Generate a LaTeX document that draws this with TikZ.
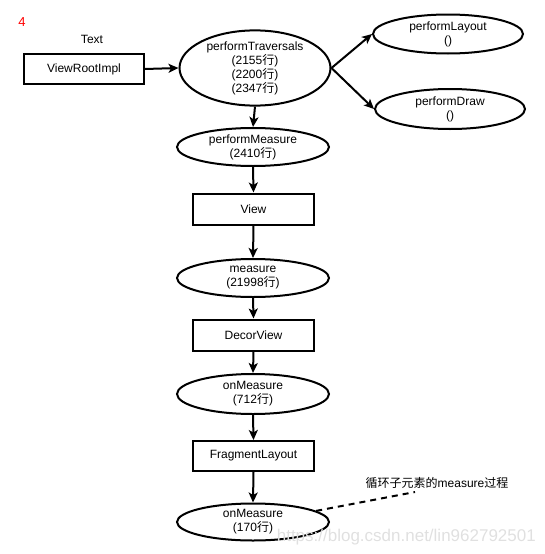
\documentclass[tikz,border=0pt]{standalone}
\usepackage{fontspec}
\setmainfont{Liberation Sans}
\newfontfamily\cjk{Noto Sans CJK SC}
\newcommand{\hz}[1]{{\cjk #1}}
\usetikzlibrary{arrows.meta,shapes.geometric}
\begin{document}
\begin{tikzpicture}[x=1pt,y=-1pt,
  every node/.style={font=\fontsize{12}{14}\selectfont, align=center, inner sep=0pt},
  box/.style={draw, line width=2pt, minimum width=120pt, minimum height=30pt},
  oval/.style={draw, ellipse, line width=2pt, minimum width=150pt, minimum height=38pt},
  arr/.style={line width=2pt, -{Stealth[length=10pt,width=9pt,inset=2.5pt]}},
  dash line/.style={line width=2pt, dashed, dash pattern=on 6pt off 5pt}
]
\useasboundingbox (0,0) rectangle (545,554);
\node[text=red, font=\fontsize{13}{14}\selectfont] (four) at (22,22) {4};
\node (txt) at (92,39) {Text};
\node[box] (vri) at (84,69) {ViewRootImpl};
\node[oval, minimum width=151pt, minimum height=68pt] (pt) at (255,68) {performTraversals\\(2155\hz{行})\\(2200\hz{行})\\(2347\hz{行})};
\node[oval, minimum height=39pt] (pl) at (448,34) {performLayout\\()};
\node[oval, minimum height=40pt] (pd) at (450,109) {performDraw\\()};
\node[oval, minimum width=152pt] (pm) at (253,147) {performMeasure\\(2410\hz{行})};
\node[box, minimum width=121pt, minimum height=31pt] (view) at (253.5,209) {View};
\node[oval, minimum width=152pt] (ms) at (253,278) {measure\\(21998\hz{行})};
\node[box, minimum width=121pt, minimum height=31pt] (dv) at (253.5,335) {DecorView};
\node[oval, minimum width=152pt, minimum height=40pt] (om1) at (253,394) {onMeasure\\(712\hz{行})};
\node[box, minimum width=121pt, minimum height=30pt] (fl) at (253.5,456) {FragmentLayout};
\node[oval, minimum width=152pt, minimum height=37pt] (om2) at (253,522) {onMeasure\\(170\hz{行})};
\node (note) at (437,483) {\hz{循环子元素的}measure\hz{过程}};
\coordinate (nend) at (415,492);
\node[text=black!12, font=\fontsize{17}{18}\selectfont, anchor=east] (wm) at (536,537) {https://blog.csdn.net/lin962792501};

\draw[arr] (vri.east) -- (pt.west);
\draw[arr] (pt.east) -- (pl.west);
\draw[arr] (pt.east) -- (pd.west);
\draw[arr] (pt.south) -- (pm.north);
\draw[arr] (pm.south) -- (view.north);
\draw[arr] (view.south) -- (ms.north);
\draw[arr] (ms.south) -- (dv.north);
\draw[arr] (dv.south) -- (om1.north);
\draw[arr] (om1.south) -- (fl.north);
\draw[arr] (fl.south) -- (om2.north);
\draw[dash line] (om2.10) -- (nend);
\end{tikzpicture}
\end{document}
